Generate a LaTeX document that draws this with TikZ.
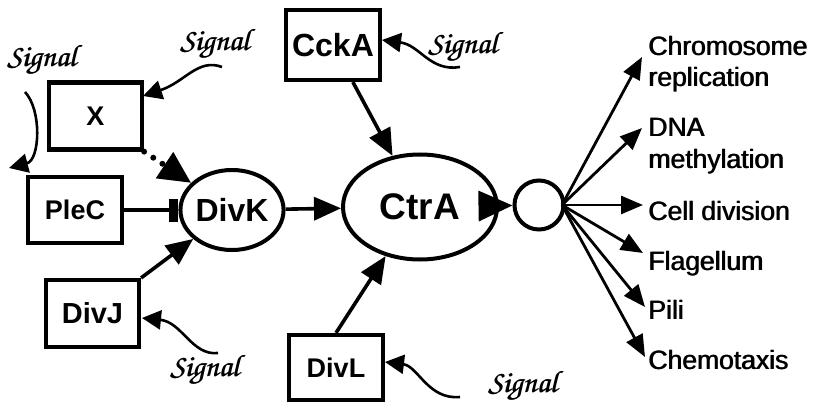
\documentclass[tikz,border=0pt]{standalone}
\usepackage{fontspec}
\setmainfont{Liberation Sans}
\usetikzlibrary{arrows.meta,shapes.geometric}
\newcommand\sigfont{\fontencoding{OT1}\fontfamily{pzc}\fontseries{mb}\fontshape{it}\selectfont}
\newcommand\fsz[1]{\fontsize{#1}{#1}\selectfont}
\newcommand\thicktext[1]{\rlap{#1}\hspace{0.8pt}#1}
\tikzset{
  box/.style={draw, line width=4.2pt, minimum width=93pt, minimum height=67pt, inner sep=0pt, font=\bfseries\fsz{27}},
  ell/.style={draw, ellipse, line width=4pt, inner sep=0pt, font=\bfseries\fsz{32}},
  conn/.style={line width=3.6pt, -{Triangle[length=27pt,width=23pt]}},
  outarr/.style={line width=2.8pt, -{Triangle[length=22pt,width=18pt]}},
  sigarr/.style={line width=2.6pt, -{Triangle[length=19pt,width=19pt]}},
  sig/.style={font=\sigfont\fsz{31}, inner sep=0pt},
  lab/.style={anchor=base west, font=\fontsize{26.5}{32}\selectfont, inner sep=0pt, align=left},
}
\begin{document}
\begin{tikzpicture}[x=1pt,y=-1pt]
\useasboundingbox (0,0) rectangle (815,404);
% nodes
\node[box] (X) at (95.5,116) {X};
\node[box, minimum width=94pt, minimum height=66pt] (PleC) at (75,210) {PleC};
\node[box, font=\bfseries\fsz{29}] (DivJ) at (92.5,313.5) {DivJ};
\node[box, minimum width=94pt, minimum height=70pt, font=\bfseries\fsz{32}] (CckA) at (333,45) {CckA};
\node[box, minimum width=94pt, minimum height=65pt] (DivL) at (336,367.5) {DivL};
\node[ell, minimum width=94pt, minimum height=80pt] (DivK) at (232,210) {DivK};
\node[ell, minimum width=154pt, minimum height=105pt, font=\bfseries\fsz{37}] (CtrA) at (420,207) {CtrA};
\node[draw, circle, line width=4pt, minimum size=49pt, inner sep=0pt] (O) at (539,205) {};
% right labels
\node[lab] (L1) at (648,87) {\thicktext{Chromosome}\\\thicktext{replication}};
\node[lab] (L2) at (648,168) {\thicktext{DNA}\\\thicktext{methylation}};
\node[lab] (L3) at (648,220) {\thicktext{Cell division}};
\node[lab] (L4) at (648,270) {\thicktext{Flagellum}};
\node[lab] (L5) at (648,319) {\thicktext{Pili}};
\node[lab] (L6) at (648,369) {\thicktext{Chemotaxis}};
\coordinate (t1) at (642,57);
\coordinate (t2) at (642,128);
\coordinate (t3) at (643,205);
\coordinate (t4) at (643,253);
\coordinate (t5) at (645,307);
\coordinate (t6) at (645,357);
\coordinate (oe) at (562,205);
\foreach \t in {t1,t2,t3,t4,t5,t6} \draw[outarr] (oe) -- (\t);
% main connectors
\draw[conn] (DivK) -- (CtrA);
\draw[line width=3.6pt, -{Triangle[length=34pt,width=30pt]}] (CtrA) -- (O);
\draw[conn] (CckA) -- (CtrA);
\draw[conn] (DivL.north) -- (CtrA.235);
\draw[conn] (DivJ.north east) -- (DivK);
\draw[line width=3.6pt, -{Rectangle[length=9pt,width=23pt]}] (PleC.east) -- (DivK.west);
\draw[line width=6pt, line cap=round, dash pattern=on 0pt off 11pt, -{Triangle[length=32pt,width=30pt]}] (X.south east) -- (DivK);
% signals
\node[sig] (S1) at (42,60) {\thicktext{Signal}};
\node[sig] (S2) at (215,44) {\thicktext{Signal}};
\node[sig] (S3) at (463,47) {\thicktext{Signal}};
\node[sig] (S4) at (205,370) {\thicktext{Signal}};
\node[sig] (S5) at (523,386) {\thicktext{Signal}};
\coordinate (a1) at (25,92);   \coordinate (b1) at (9,168);
\coordinate (a2) at (222,67);  \coordinate (b2) at (143,96);
\coordinate (a3) at (460,67);  \coordinate (b3) at (382,40);
\coordinate (a4) at (218,353); \coordinate (b4) at (142,318);
\coordinate (a5) at (460,397); \coordinate (b5) at (385,362);
\draw[sigarr] (a1) .. controls (42,110) and (40,160) .. (b1);
\draw[sigarr] (a2) .. controls (198,58) and (185,82) .. (b2);
\draw[sigarr] (a3) .. controls (430,72) and (420,45) .. (b3);
\draw[sigarr] (a4) .. controls (192,356) and (182,322) .. (b4);
\draw[sigarr] (a5) .. controls (428,400) and (418,366) .. (b5);
\end{tikzpicture}
\end{document}
